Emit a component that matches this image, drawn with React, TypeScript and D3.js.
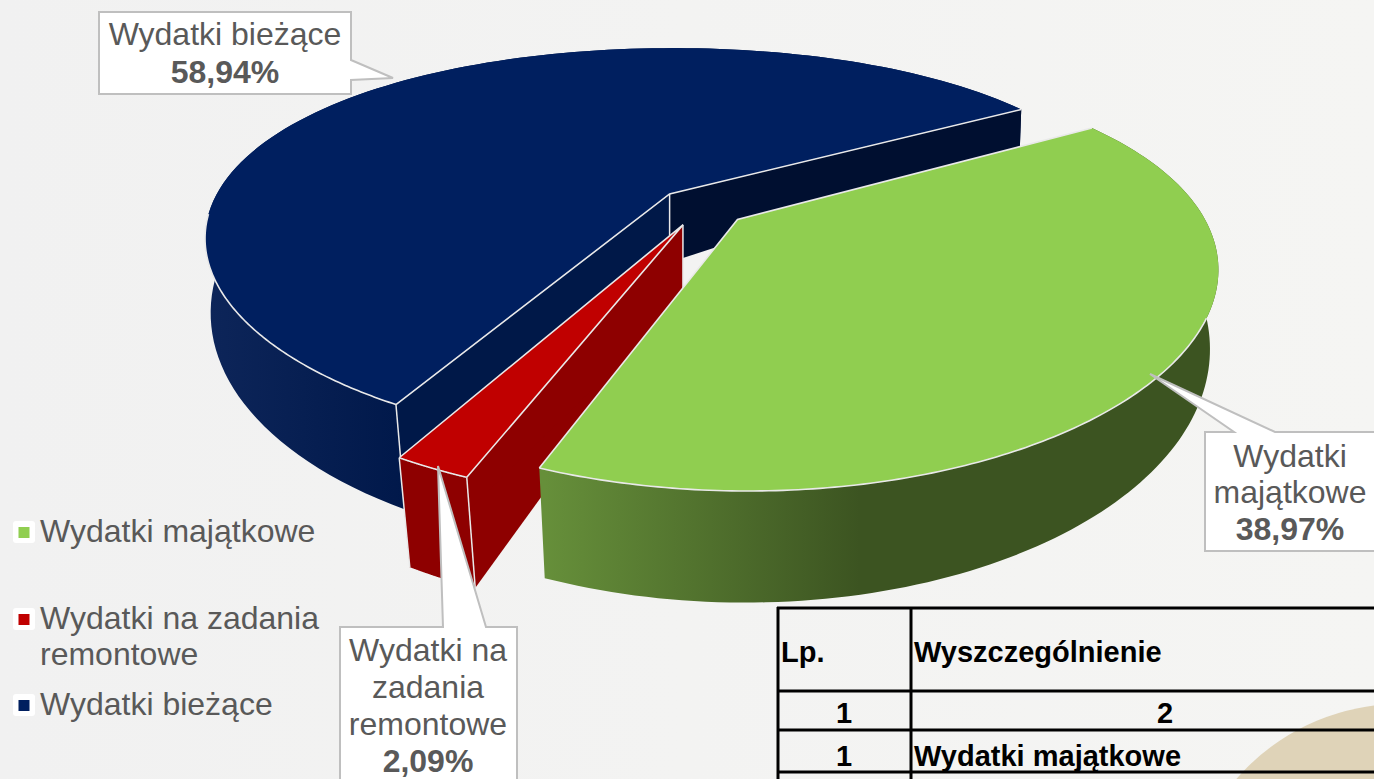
import React from "react";
import * as d3 from "d3";

const categories = ["Wydatki majątkowe", "Wydatki na zadania remontowe", "Wydatki bieżące"];
const shares = [38.97, 2.09, 58.94];
const topColors = ["#90ce50", "#c00000", "#001f5f"];
const percentLabels = ["38,97%", "2,09%", "58,94%"];
const legendLines = [["Wydatki majątkowe"], ["Wydatki na zadania", "remontowe"], ["Wydatki bieżące"]];
const legendY = [[542], [629, 665], [715]];
const tableRows = [
  { lp: "Lp.", name: "Wyszczególnienie", y: 662, lpLeft: true, nameCenter: false },
  { lp: "1", name: "2", y: 723, lpLeft: false, nameCenter: true },
  { lp: "1", name: "Wydatki majątkowe", y: 766, lpLeft: false, nameCenter: false },
];
const tableRules = [608, 691, 730, 772];
const tableCols = [778, 911];

const FONT = "'Liberation Sans', Arial, sans-serif";
const GREY = "#595959";
const START = (60 * Math.PI) / 180;
const EXPLODE = 0.1;
const CX = 702, CY = 207, RX = 457, RY = 191, P = 0.267, PX = 0.24, SIDE_LIFT = 5;
const VX = 680, TILT = 0.00035;

const project = (X: number, Y: number, lower: boolean): [number, number] => {
  const w = 1 - P * Y;
  let sx = CX + (RX * X) / (1 - PX * Y);
  let sy = CY + (RY * Y) / w - SIDE_LIFT * X * X;
  if (lower) {
    const t = w - 1;
    const h = 72 - 191.5 * t - 184 * t * t;
    sy += h;
    sx += (VX - sx) * h * TILT * (0.3 + 0.7 * Math.max(0, Y));
  }
  return [sx, sy];
};

const pieGen = d3.pie<number>().sort(null).startAngle(START).endAngle(START + 2 * Math.PI);
const arcs = pieGen(shares);
const line = d3.line();

function geometry(a: d3.PieArcDatum<number>) {
  const mid = (a.startAngle + a.endAngle) / 2;
  const ax = EXPLODE * Math.sin(mid), ay = -EXPLODE * Math.cos(mid);
  const rimAt = (phi: number, lower: boolean) => project(ax + Math.sin(phi), ay - Math.cos(phi), lower);
  const sample = (from: number, to: number) => d3.range(0, 121).map((i) => from + ((to - from) * i) / 120);
  return {
    apexT: project(ax, ay, false),
    apexB: project(ax, ay, true),
    rimAt,
    sample,
  };
}
const geos = arcs.map(geometry);
const closed = (pts: [number, number][]) => (line(pts) || "") + "Z";

const WALL = "#e9e9e9";

function Slice({ i }: { i: number }) {
  const a = arcs[i];
  const g = geos[i];
  const phis = g.sample(a.startAngle, a.endAngle);
  const top = phis.map((p) => g.rimAt(p, false));
  const bottom = phis.map((p) => g.rimAt(p, true));
  const first = top[0], last = top[top.length - 1];
  const firstB = bottom[0], lastB = bottom[bottom.length - 1];
  const topPath = closed([g.apexT, ...top]);
  const outer = closed([...top, ...[...bottom].reverse()]);
  const radialStart = closed([g.apexT, first, firstB, g.apexB]);
  const radialEnd = closed([g.apexT, last, lastB, g.apexB]);
  const wallFill = ["url(#wallG)", "#8e0000", "url(#wallB)"][i];
  const rimPhis = i === 0 ? g.sample(a.startAngle + 1.0, a.endAngle) : i === 1 ? phis : g.sample(a.startAngle, a.startAngle + 0.95);
  const rim = rimPhis.map((p) => g.rimAt(p, false));
  return (
    <g>
      <path d={outer} fill={wallFill} />
      {i === 2 && <path d={radialEnd} fill="#000f30" />}
      {i === 2 && <path d={radialStart} fill="#001848" />}
      {i === 1 && <path d={radialStart} fill="#8e0000" />}
      {i === 1 && <path d={radialEnd} fill="#8e0000" />}
      <path d={topPath} fill={topColors[i]} />
      {i !== 0 && <path d={line([first, firstB]) || ""} stroke={WALL} strokeWidth={1.5} fill="none" />}
      {i === 1 && <path d={line([last, lastB]) || ""} stroke={WALL} strokeWidth={1.5} fill="none" />}
      {i === 2 && <path d={line([g.apexT, [g.apexT[0], g.apexT[1] + 50]]) || ""} stroke={WALL} strokeWidth={1.5} fill="none" />}
      {i === 1 && <path d={line([g.apexT, g.apexB]) || ""} stroke={WALL} strokeWidth={1.5} fill="none" />}
      <path d={line([first, g.apexT, last]) || ""} stroke={WALL} strokeWidth={1.6} fill="none" />
      <path d={line(rim) || ""} stroke={WALL} strokeWidth={1.6} fill="none" />
    </g>
  );
}

function Callout({ d, lines, bold, cx, ys, size }: { d: string; lines: string[]; bold: string; cx: number; ys: number[]; size: number }) {
  return (
    <g>
      <path d={d} fill="#ffffff" stroke="#bfbfbf" strokeWidth={2} strokeLinejoin="miter" />
      {lines.map((l, k) => (
        <text key={k} x={cx} y={ys[k]} textAnchor="middle" fontSize={size} fontFamily={FONT} fill={GREY}>{l}</text>
      ))}
      <text x={cx} y={ys[lines.length]} textAnchor="middle" fontSize={size} fontWeight="bold" fontFamily={FONT} fill={GREY}>{bold}</text>
    </g>
  );
}

export default function App() {
  return (
    <svg width={1374} height={779} style={{ position: "fixed", left: 0, top: 0, display: "block" }}>
      <defs>
        <linearGradient id="bg" x1="0" x2="1" y1="0" y2="0">
          <stop offset="0%" stopColor="#f1f1f1" />
          <stop offset="100%" stopColor="#f5f5f3" />
        </linearGradient>
        <linearGradient id="wallG" gradientUnits="userSpaceOnUse" x1="545" x2="860" y1="0" y2="0">
          <stop offset="0%" stopColor="#668f3a" />
          <stop offset="100%" stopColor="#3c5421" />
        </linearGradient>
        <linearGradient id="wallB" gradientUnits="userSpaceOnUse" x1="210" x2="410" y1="0" y2="0">
          <stop offset="0%" stopColor="#0d2559" />
          <stop offset="100%" stopColor="#00184a" />
        </linearGradient>
      </defs>
      <rect width={1374} height={779} fill="url(#bg)" />
      <circle cx={1400} cy={920} r={216} fill="#dfd3b8" />

      <Slice i={2} />
      <Slice i={1} />
      <Slice i={0} />

      {tableRules.map((y) => (
        <line key={y} x1={777} x2={1374} y1={y} y2={y} stroke="#000" strokeWidth={3} />
      ))}
      {tableCols.map((x) => (
        <line key={x} x1={x} x2={x} y1={607} y2={779} stroke="#000" strokeWidth={3} />
      ))}
      {tableRows.map((r, k) => (
        <g key={k} fontFamily={FONT} fontWeight="bold" fontSize={29} fill="#000">
          <text x={r.lpLeft ? 781 : 844} y={r.y} textAnchor={r.lpLeft ? "start" : "middle"}>{r.lp}</text>
          <text x={r.nameCenter ? 1165 : 914} y={r.y} textAnchor={r.nameCenter ? "middle" : "start"}>{r.name}</text>
        </g>
      ))}

      {legendLines.map((ls, k) => (
        <g key={k}>
          <rect x={13} y={legendY[k][0] - 21} width={22} height={22} rx={3} fill="#fff" />
          <rect x={18.5} y={legendY[k][0] - 15} width={11} height={11} fill={topColors[k]} />
          {ls.map((l, j) => (
            <text key={j} x={40} y={legendY[k][j]} fontSize={32} fontFamily={FONT} fill={GREY}>{l}</text>
          ))}
        </g>
      ))}

      <Callout d="M99,12H351V60L393,78L351,80V94H99Z" lines={["Wydatki bieżące"]} bold={percentLabels[2]} cx={225} ys={[45, 83]} size={32} />
      <Callout d="M1205,432H1234L1150,374L1275,432H1385V551H1205Z" lines={["Wydatki", "majątkowe"]} bold={percentLabels[0]} cx={1290} ys={[467, 503, 540]} size={32} />
      <Callout d="M340,627H443L438,466L486,627H517V790H340Z" lines={["Wydatki na", "zadania", "remontowe"]} bold={percentLabels[1]} cx={428} ys={[661, 698, 735, 772]} size={32} />
    </svg>
  );
}
